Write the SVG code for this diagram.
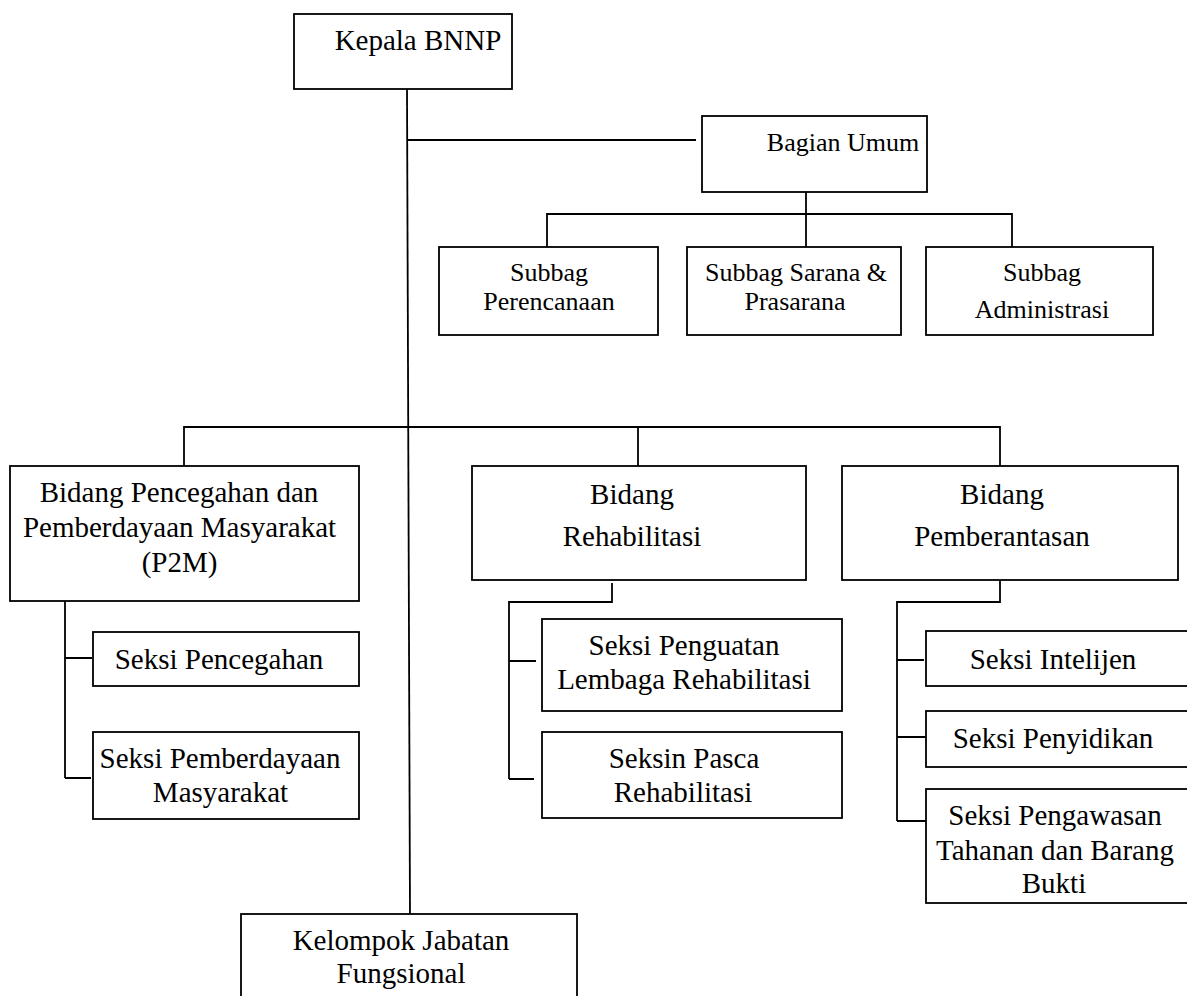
<svg xmlns="http://www.w3.org/2000/svg" width="1187" height="996" viewBox="0 0 1187 996">
<style>
.box{fill:#fff;stroke:#000;stroke-width:1.8}
.ln{fill:none;stroke:#000;stroke-width:1.8}
text{fill:#000;text-anchor:middle;font-size:29px}
.sm{font-size:26px}
</style>
<rect width="1187" height="996" fill="#fff"/>
<g id="connectors">
<path class="ln" d="M407,89 L410,914"/>
<path class="ln" d="M408,140 H696"/>
<path class="ln" d="M806,192 V247 M547,247 V214 H1012 V247"/>
<path class="ln" d="M184,466 V427 H1000 V466 M638,427 V466"/>
<path class="ln" d="M169,582 V601 M65,601 V778 M65,658 H92 M65,778 H91"/>
<path class="ln" d="M612,583 V602 H509 V779 M509,661 H536 M509,779 H534"/>
<path class="ln" d="M1000,580 V602 H897 V821 M897,660 H924 M897,737 H926 M897,821 H926"/>
</g>
<g id="kepala"><rect class="box" x="294" y="14" width="218" height="75"/><text x="418" y="50" style="font-family:'Liberation Serif'">Kepala BNNP</text></g>
<g id="bagian-umum"><rect class="box" x="702" y="116" width="225" height="76"/><text class="sm" x="843" y="151" style="font-family:'Liberation Serif'">Bagian Umum</text></g>
<g id="subbag-perencanaan"><rect class="box" x="439" y="247" width="219" height="88"/><text class="sm" x="549" y="281" style="font-family:'Liberation Serif'">Subbag</text><text class="sm" x="549" y="310" style="font-family:'Liberation Serif'">Perencanaan</text></g>
<g id="subbag-sarana"><rect class="box" x="687" y="247" width="214" height="88"/><text class="sm" x="796" y="281" style="font-family:'Liberation Serif'">Subbag Sarana &amp;</text><text class="sm" x="795" y="310" style="font-family:'Liberation Serif'">Prasarana</text></g>
<g id="subbag-administrasi"><rect class="box" x="926" y="247" width="227" height="88"/><text class="sm" x="1042" y="281" style="font-family:'Liberation Serif'">Subbag</text><text class="sm" x="1042" y="318" style="font-family:'Liberation Serif'">Administrasi</text></g>
<g id="bidang-p2m"><rect class="box" x="10" y="466" width="349" height="135"/><text x="179" y="502" style="font-family:'Liberation Serif'">Bidang Pencegahan dan</text><text x="179.5" y="537" style="font-family:'Liberation Serif'">Pemberdayaan Masyarakat</text><text x="179.5" y="572" style="font-family:'Liberation Serif'">(P2M)</text></g>
<g id="bidang-rehabilitasi"><rect class="box" x="472" y="466" width="334" height="114"/><text x="632" y="504" style="font-family:'Liberation Serif'">Bidang</text><text x="632" y="546" style="font-family:'Liberation Serif'">Rehabilitasi</text></g>
<g id="bidang-pemberantasan"><rect class="box" x="842" y="466" width="336" height="114"/><text x="1002" y="504" style="font-family:'Liberation Serif'">Bidang</text><text x="1002" y="546" style="font-family:'Liberation Serif'">Pemberantasan</text></g>
<g id="seksi-pencegahan"><rect class="box" x="93" y="632" width="266" height="54"/><text x="219" y="669" style="font-family:'Liberation Serif'">Seksi Pencegahan</text></g>
<g id="seksi-pemberdayaan"><rect class="box" x="93" y="732" width="266" height="87"/><text x="220" y="768" style="font-family:'Liberation Serif'">Seksi Pemberdayaan</text><text x="220.5" y="802" style="font-family:'Liberation Serif'">Masyarakat</text></g>
<g id="seksi-penguatan"><rect class="box" x="542" y="619" width="300" height="92"/><text x="684" y="655" style="font-family:'Liberation Serif'">Seksi Penguatan</text><text x="684" y="689" style="font-family:'Liberation Serif'">Lembaga Rehabilitasi</text></g>
<g id="seksin-pasca"><rect class="box" x="542" y="732" width="300" height="86"/><text x="684" y="768" style="font-family:'Liberation Serif'">Seksin Pasca</text><text x="683" y="802" style="font-family:'Liberation Serif'">Rehabilitasi</text></g>
<g id="seksi-intelijen"><rect class="box" x="926" y="631" width="264" height="55"/><text x="1053" y="669" style="font-family:'Liberation Serif'">Seksi Intelijen</text></g>
<g id="seksi-penyidikan"><rect class="box" x="926" y="711" width="264" height="56"/><text x="1053" y="748" style="font-family:'Liberation Serif'">Seksi Penyidikan</text></g>
<g id="seksi-pengawasan"><rect class="box" x="926" y="789" width="264" height="114"/><text x="1055" y="825" style="font-family:'Liberation Serif'">Seksi Pengawasan</text><text x="1055" y="860" style="font-family:'Liberation Serif'">Tahanan dan Barang</text><text x="1054" y="893" style="font-family:'Liberation Serif'">Bukti</text></g>
<g id="kelompok-jabatan"><rect class="box" x="241" y="914" width="336" height="90"/><text x="401" y="950" style="font-family:'Liberation Serif'">Kelompok Jabatan</text><text x="401" y="983" style="font-family:'Liberation Serif'">Fungsional</text></g>
</svg>
